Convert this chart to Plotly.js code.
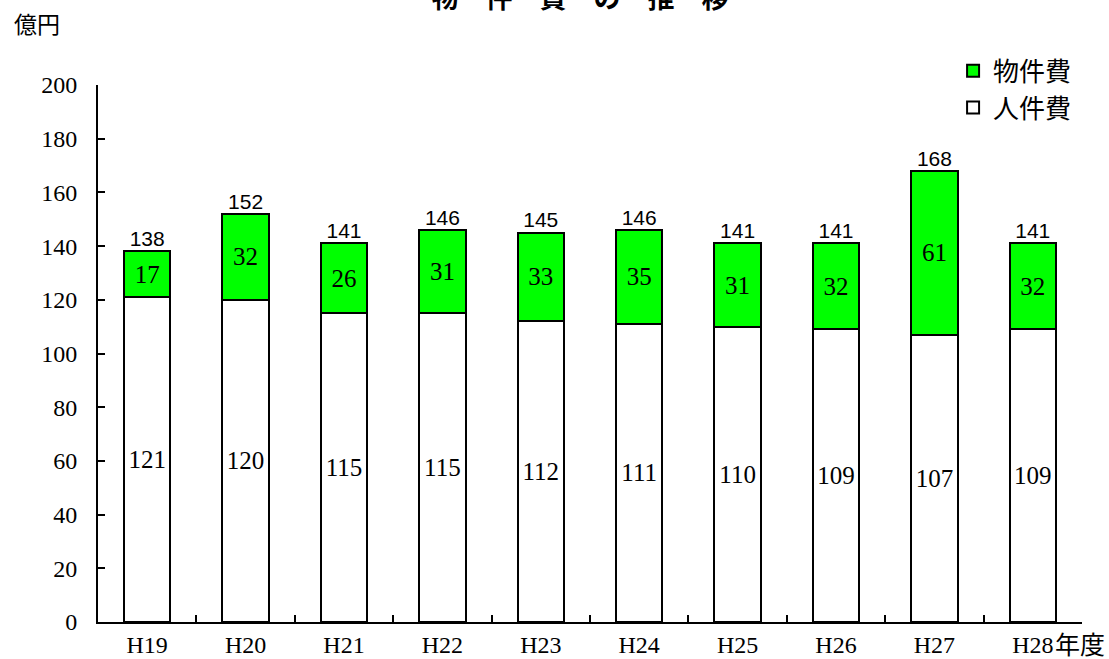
<!DOCTYPE html>
<html><head><meta charset="utf-8">
<script src="https://cdn.plot.ly/plotly-3.0.1.min.js"></script>
<style>html,body{margin:0;padding:0;background:#fff}#chart{width:1109px;height:659px}</style>
</head><body><div id="chart"></div>
<script>
const categories = ['H19','H20','H21','H22','H23','H24','H25','H26','H27','H28'];
const personnel = [121,120,115,115,112,111,110,109,107,109];
const goods = [17,32,26,31,33,35,31,32,61,32];
const totals = personnel.map((v,i)=>v+goods[i]);

const serif = 'Liberation Serif, DejaVu Serif, serif';
const cjk = 'Noto Sans CJK JP, sans-serif';

const traces = [
  {type:'bar', name:'人件費', x:categories, y:personnel,
   marker:{color:'#ffffff', line:{color:'#000', width:2}},
   text:personnel.map(String), textposition:'inside', insidetextanchor:'middle',
   textangle:0, constraintext:'none',
   textfont:{family:serif, size:25, color:'#000'}, hoverinfo:'none'},
  {type:'bar', name:'物件費', x:categories, y:goods,
   marker:{color:'#00ff00', line:{color:'#000', width:2}},
   text:goods.map(String), textposition:'inside', insidetextanchor:'middle',
   textangle:0, constraintext:'none',
   textfont:{family:serif, size:25, color:'#000'}, hoverinfo:'none'},
  {type:'scatter', mode:'text', x:categories, y:totals, showlegend:false,
   text:totals.map(String), textposition:'top center',
   textfont:{family:'Liberation Sans, Arial, sans-serif', size:21, color:'#000'}, hoverinfo:'none'}
];

const layout = {
  width:1109, height:659,
  margin:{l:98, r:27, t:85, b:37},
  paper_bgcolor:'#fff', plot_bgcolor:'#fff',
  barmode:'stack', bargap:0.53,
  showlegend:true,
  legend:{x:0.995, xanchor:'right', y:1.07, yanchor:'top',
          traceorder:'reversed', itemwidth:30,
          font:{family:cjk, size:26, color:'#000'}, bgcolor:'rgba(0,0,0,0)'},
  title:{text:'物　件　費　の　推　移', x:0.523, xanchor:'center', y:0.988, yanchor:'bottom', yref:'container',
         font:{family:cjk, size:27, color:'#000', weight:'bold'}},
  xaxis:{type:'category', showline:true, linecolor:'#000', linewidth:2,
         ticks:'inside', tickson:'boundaries', ticklen:7, tickwidth:2, tickcolor:'#000',
         tickfont:{family:serif, size:24, color:'#000'}, showgrid:false, zeroline:false,
         range:[-0.5, 9.5]},
  yaxis:{range:[0,200], dtick:20, showline:true, linecolor:'#000', linewidth:2,
         ticks:'inside', ticklen:7, tickwidth:2, tickcolor:'#000',
         tickfont:{family:serif, size:24, color:'#000'}, showgrid:false, zeroline:false,
         ticklabelstandoff:14},
  annotations:[
    {text:'億円', xref:'paper', yref:'paper', x:-0.0876, y:1.115, xanchor:'left', yanchor:'middle',
     showarrow:false, font:{family:cjk, size:23, color:'#000'}},
    {text:'年度', xref:'paper', yref:'paper', x:0.971, y:-0.039, xanchor:'left', yanchor:'middle',
     showarrow:false, font:{family:cjk, size:25, color:'#000'}}
  ]
};
Plotly.newPlot('chart', traces, layout, {displayModeBar:false});
</script></body></html>
